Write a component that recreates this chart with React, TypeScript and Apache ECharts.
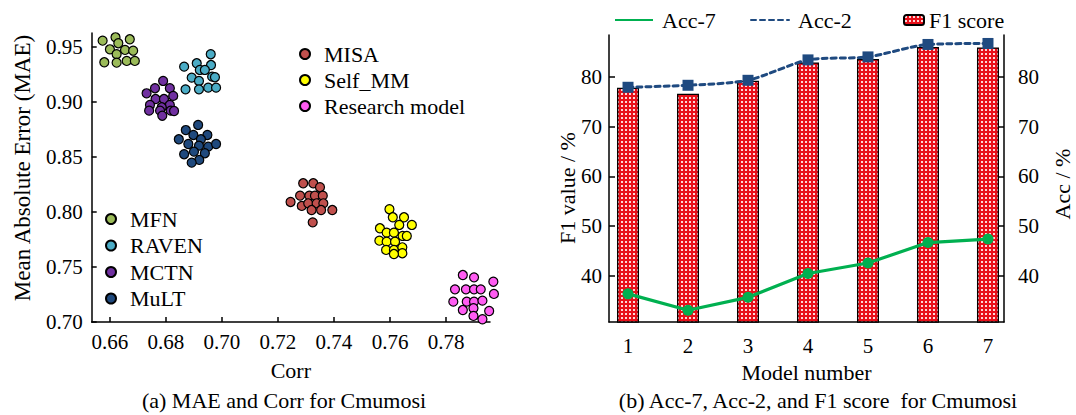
import React, { useEffect, useRef } from "react";
import * as echarts from "echarts";

// ---------- Left chart data: [Corr, MAE] ----------
const CORR_TICKS = [0.66, 0.68, 0.7, 0.72, 0.74, 0.76, 0.78];
const MAE_TICKS = [0.7, 0.75, 0.8, 0.85, 0.9, 0.95];

const MFN = [
  [0.6574, 0.9557], [0.662, 0.9588], [0.6671, 0.957], [0.663, 0.9534],
  [0.66, 0.9479], [0.6654, 0.9473], [0.6683, 0.9466], [0.6624, 0.9434],
  [0.658, 0.9361], [0.6624, 0.9357], [0.666, 0.9373], [0.6689, 0.9373],
];
const RAVEN = [
  [0.6865, 0.9321], [0.691, 0.9352], [0.696, 0.9434], [0.6961, 0.9336],
  [0.6921, 0.9291], [0.6939, 0.9291], [0.6892, 0.9221], [0.6918, 0.9191],
  [0.6965, 0.923], [0.6975, 0.9225], [0.687, 0.9115], [0.6918, 0.9115],
  [0.6951, 0.913], [0.6979, 0.913],
];
const MCTN = [
  [0.679, 0.9191], [0.6761, 0.9125], [0.6814, 0.9125], [0.6731, 0.9079],
  [0.6826, 0.9055], [0.6763, 0.9027], [0.6793, 0.9027], [0.6743, 0.8973],
  [0.6814, 0.8973], [0.6785, 0.8952], [0.674, 0.8921], [0.6779, 0.8921],
  [0.6817, 0.8921], [0.6829, 0.8918], [0.6787, 0.8875],
];
const MULT = [
  [0.6915, 0.8791], [0.6871, 0.8745], [0.6898, 0.87], [0.6948, 0.87],
  [0.6846, 0.8661], [0.6925, 0.8661], [0.688, 0.8618], [0.6918, 0.8603],
  [0.6951, 0.8594], [0.6979, 0.8618], [0.6865, 0.8525], [0.69, 0.8548],
  [0.6939, 0.8534], [0.6919, 0.8473], [0.6892, 0.8448],
];
const MISA = [
  [0.729, 0.8261], [0.7326, 0.8261], [0.735, 0.8225], [0.7245, 0.8091],
  [0.7279, 0.8148], [0.7312, 0.8148], [0.7332, 0.8148], [0.736, 0.8148],
  [0.7285, 0.8055], [0.7308, 0.8079], [0.7338, 0.8079], [0.7362, 0.8079],
  [0.732, 0.8018], [0.7354, 0.8018], [0.7394, 0.8018], [0.7324, 0.7906],
];
const SELF_MM = [
  [0.7598, 0.8025], [0.761, 0.7952], [0.765, 0.7952], [0.7633, 0.7882],
  [0.7678, 0.7882], [0.7564, 0.7852], [0.7588, 0.7812], [0.7614, 0.7812],
  [0.7645, 0.7782], [0.766, 0.7782], [0.7562, 0.7739], [0.7588, 0.773],
  [0.7618, 0.773], [0.7586, 0.7655], [0.7614, 0.7655], [0.7644, 0.7679],
  [0.7644, 0.7625], [0.7614, 0.7618],
];
const RESEARCH = [
  [0.786, 0.7427], [0.79, 0.7406], [0.7969, 0.7366], [0.7832, 0.7297],
  [0.7871, 0.7297], [0.79, 0.7297], [0.7924, 0.7297], [0.7971, 0.7255],
  [0.7826, 0.7185], [0.7874, 0.7185], [0.79, 0.7185], [0.793, 0.7194],
  [0.786, 0.7109], [0.7898, 0.7125], [0.7954, 0.71], [0.7898, 0.7055],
  [0.793, 0.7025],
];

// ---------- Right chart data ----------
const MODEL_NUMBERS = [1, 2, 3, 4, 5, 6, 7];
const F1_SCORE = [77.8, 76.6, 79.2, 82.9, 83.6, 86.0, 85.9];
const ACC_2 = [77.9, 78.3, 79.3, 83.4, 84.0, 86.5, 86.7];
const ACC_7 = [36.4, 33.1, 35.7, 40.5, 42.6, 46.7, 47.4];
const ACC_TICKS = [40, 50, 60, 70, 80];

const FONT = "'Liberation Serif', 'Times New Roman', serif";

function makePattern(): HTMLCanvasElement {
  const c = document.createElement("canvas");
  c.width = 4;
  c.height = 4;
  const ctx = c.getContext("2d")!;
  ctx.fillStyle = "#e8101a";
  ctx.fillRect(0, 0, 4, 4);
  ctx.fillStyle = "rgba(255,225,225,0.95)";
  ctx.fillRect(1, 1, 2, 2);
  return c;
}

export default function App() {
  const ref = useRef<HTMLDivElement>(null);

  useEffect(() => {
    if (!ref.current) return;
    const chart = echarts.init(ref.current, undefined, { renderer: "svg" });
    const pattern = makePattern();
    const barFill: any = { image: pattern, repeat: "repeat" };

    const axisLine = { show: true, lineStyle: { color: "#000", width: 1.5 } };
    const tickStyle = { color: "#000", width: 1.5 };
    const labelBase = { color: "#000", fontSize: 21, fontFamily: FONT };
    const legendText = { color: "#000", fontSize: 22, fontFamily: FONT };

    const scatter = (name: string, data: number[][], color: string) => ({
      name,
      type: "scatter",
      xAxisIndex: 0,
      yAxisIndex: 0,
      data,
      symbol: "circle",
      symbolSize: 9,
      clip: false,
      itemStyle: { color, borderColor: "#000", borderWidth: 1.2, opacity: 1 },
    });

    const option: any = {
      animation: false,
      backgroundColor: "#fff",
      textStyle: { fontFamily: FONT, color: "#000" },
      grid: [
        { left: 91.7, top: 33, width: 398.3, height: 289 },
        { left: 609, top: 35, width: 395, height: 287 },
      ],
      xAxis: [
        {
          type: "value",
          gridIndex: 0,
          min: 0.6535,
          max: 0.7957,
          axisLine,
          axisTick: { show: true, inside: true, length: 5, customValues: CORR_TICKS, lineStyle: tickStyle },
          axisLabel: { ...labelBase, customValues: CORR_TICKS, margin: 9, formatter: (v: number) => v.toFixed(2) },
          splitLine: { show: false },
          name: "Corr",
          nameLocation: "middle",
          nameGap: 37,
          nameTextStyle: { color: "#000", fontSize: 22, fontFamily: FONT },
        },
        {
          type: "value",
          gridIndex: 1,
          min: 0.683,
          max: 7.267,
          axisLine,
          axisTick: { show: false },
          axisLabel: { ...labelBase, customValues: MODEL_NUMBERS, margin: 13, formatter: (v: number) => String(v) },
          splitLine: { show: false },
          name: "Model number",
          nameLocation: "middle",
          nameGap: 39,
          nameTextStyle: { color: "#000", fontSize: 22, fontFamily: FONT },
        },
      ],
      yAxis: [
        {
          type: "value",
          gridIndex: 0,
          min: 0.7,
          max: 0.9627,
          axisLine,
          axisTick: { show: true, inside: true, length: 5, customValues: MAE_TICKS, lineStyle: tickStyle },
          axisLabel: { ...labelBase, customValues: MAE_TICKS, margin: 9, formatter: (v: number) => v.toFixed(2) },
          splitLine: { show: false },
        },
        {
          type: "value",
          gridIndex: 1,
          position: "left",
          min: 30.75,
          max: 88.4,
          axisLine,
          axisTick: { show: true, inside: true, length: 6, customValues: ACC_TICKS, lineStyle: tickStyle },
          axisLabel: { ...labelBase, customValues: ACC_TICKS, margin: 7, formatter: (v: number) => String(v) },
          splitLine: { show: false },
        },
        {
          type: "value",
          gridIndex: 1,
          position: "right",
          min: 30.75,
          max: 88.4,
          axisLine,
          axisTick: { show: true, inside: true, length: 6, customValues: ACC_TICKS, lineStyle: tickStyle },
          axisLabel: { ...labelBase, customValues: ACC_TICKS, margin: 14, formatter: (v: number) => String(v) },
          splitLine: { show: false },
        },
      ],
      legend: [
        {
          data: ["MISA", "Self_MM", "Research model"],
          orient: "vertical",
          left: 294,
          top: 38,
          itemGap: 4,
          itemWidth: 28,
          itemHeight: 10,
          textStyle: legendText,
          selectedMode: false,
        },
        {
          data: ["MFN", "RAVEN", "MCTN", "MuLT"],
          orient: "vertical",
          left: 100,
          top: 203,
          itemGap: 4.5,
          itemWidth: 28,
          itemHeight: 10,
          textStyle: legendText,
          selectedMode: false,
        },
        {
          data: [{ name: "Acc-7", itemStyle: { opacity: 0 } }],
          left: 609,
          top: 4,
          itemWidth: 38,
          itemHeight: 10,
          textStyle: { ...legendText, padding: [0, 0, 0, 4] },
          selectedMode: false,
        },
        {
          data: [{ name: "Acc-2", itemStyle: { opacity: 0 } }],
          left: 745,
          top: 4,
          itemWidth: 38,
          itemHeight: 10,
          textStyle: { ...legendText, padding: [0, 0, 0, 4] },
          selectedMode: false,
        },
        {
          data: ["F1 score"],
          left: 898,
          top: 4,
          itemWidth: 20,
          itemHeight: 10,
          textStyle: legendText,
          selectedMode: false,
        },
      ],
      series: [
        scatter("MFN", MFN, "#9bbb59"),
        scatter("RAVEN", RAVEN, "#4bacc6"),
        scatter("MCTN", MCTN, "#7030a0"),
        scatter("MuLT", MULT, "#1f497d"),
        scatter("MISA", MISA, "#c0504d"),
        scatter("Self_MM", SELF_MM, "#ffff00"),
        scatter("Research model", RESEARCH, "#ff5cf2"),
        {
          name: "F1 score",
          type: "bar",
          xAxisIndex: 1,
          yAxisIndex: 1,
          barWidth: 22,
          data: MODEL_NUMBERS.map((m, i) => [m, F1_SCORE[i]]),
          itemStyle: { color: barFill, borderColor: "#000", borderWidth: 1.3 },
          z: 1,
        },
        {
          name: "Acc-7",
          type: "line",
          xAxisIndex: 1,
          yAxisIndex: 1,
          data: MODEL_NUMBERS.map((m, i) => [m, ACC_7[i]]),
          symbol: "circle",
          symbolSize: 11,
          lineStyle: { color: "#00b050", width: 3.2 },
          itemStyle: { color: "#00b050" },
          z: 3,
        },
        {
          name: "Acc-2",
          type: "line",
          xAxisIndex: 1,
          yAxisIndex: 1,
          smooth: 0.25,
          data: MODEL_NUMBERS.map((m, i) => [m, ACC_2[i]]),
          symbol: "rect",
          symbolSize: 11,
          lineStyle: { color: "#1f4a80", width: 3, type: [5, 4], cap: "round" },
          itemStyle: { color: "#1f4a80" },
          z: 3,
        },
      ],
      graphic: [
        {
          type: "text",
          x: 22,
          y: 168,
          rotation: Math.PI / 2,
          style: { text: "Mean Absolute Error (MAE)", font: `23px ${FONT}`, fill: "#000", align: "center", verticalAlign: "middle" },
        },
        {
          type: "text",
          x: 567,
          y: 188,
          rotation: Math.PI / 2,
          style: { text: "F1 value / %", font: `22px ${FONT}`, fill: "#000", align: "center", verticalAlign: "middle" },
        },
        {
          type: "text",
          x: 1062,
          y: 184,
          rotation: Math.PI / 2,
          style: { text: "Acc / %", font: `22px ${FONT}`, fill: "#000", align: "center", verticalAlign: "middle" },
        },
        {
          type: "text",
          x: 284,
          y: 400,
          style: { text: "(a) MAE and Corr for Cmumosi", font: `22px ${FONT}`, fill: "#000", align: "center", verticalAlign: "middle" },
        },
        {
          type: "text",
          x: 818,
          y: 400,
          style: { text: "(b) Acc-7, Acc-2, and F1 score  for Cmumosi", font: `22px ${FONT}`, fill: "#000", align: "center", verticalAlign: "middle" },
        },
      ],
    };

    chart.setOption(option);
    return () => chart.dispose();
  }, []);

  return (
    <div
      ref={ref}
      style={{ position: "absolute", left: 0, top: 0, width: 1076, height: 415 }}
    />
  );
}
